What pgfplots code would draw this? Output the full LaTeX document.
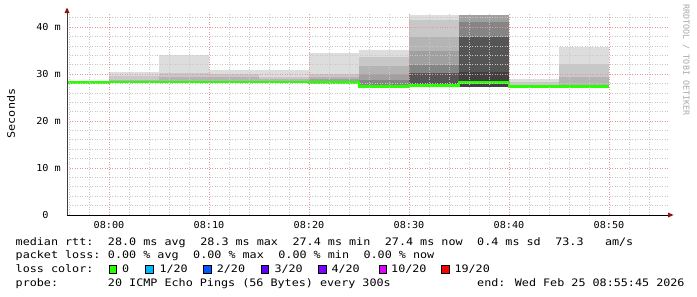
\documentclass[border=0pt]{standalone}
\usepackage{pgfplots}
\pgfplotsset{compat=1.18}
\usepackage{pgfplotstable}
\usepackage{fontspec}
\newfontfamily\rrdmono{DejaVu Sans Mono}[FakeStretch=1.14]
\newfontfamily\rrdtick{DejaVu Sans Mono}[FakeStretch=1.06]
\newfontfamily\rrdwm{DejaVu Sans Mono}
\newcommand\legfont{\rrdmono\fontsize{10.3bp}{12bp}\selectfont}
\newcommand\tickfont{\rrdtick\fontsize{9.6bp}{11bp}\selectfont}
\newcommand\wmfont{\rrdwm\fontsize{8.4bp}{10bp}\selectfont}
\definecolor{c1}{HTML}{DDDDDD}
\definecolor{c2}{HTML}{C8C8C8}
\definecolor{c3}{HTML}{B4B4B4}
\definecolor{c4}{HTML}{A0A0A0}
\definecolor{c5}{HTML}{858585}
\definecolor{c6}{HTML}{555555}
\definecolor{c7}{HTML}{404040}
\definecolor{lossgreen}{HTML}{26FF00}
\definecolor{loss1}{HTML}{00B8FF}
\definecolor{loss2}{HTML}{0059FF}
\definecolor{loss3}{HTML}{5E00FF}
\definecolor{loss4}{HTML}{7E00FF}
\definecolor{loss10}{HTML}{DD00FF}
\definecolor{loss19}{HTML}{FF0000}
\definecolor{mgrid}{HTML}{E69696}
\definecolor{ngrid}{HTML}{C8C8C8}
\definecolor{arrowred}{HTML}{961010}
\definecolor{wmgray}{HTML}{A8A8A8}

% median rtt, minutes after 08:00; each row holds until the next
\pgfplotstableread{
x   med
-5  28.2
0   28.3
5   28.3
10  28.3
15  28.3
20  28.2
25  27.4
30  27.6
35  28.2
40  27.4
45  27.4
50  27.4
}\median

% smoke band: colour, from, to, low, high
\newcommand\sm[5]{\addplot[fill=#1,draw=none,forget plot] coordinates {(#2,#4) (#3,#4) (#3,#5) (#2,#5)};}

\newcommand\legt[3]{\node[anchor=base west,inner sep=0pt,font=\legfont] at ({(15.5+7.1*#1)*1bp},{-#2bp}) {#3};}
\newcommand\lbox[3]{\filldraw[fill=#1,draw=black,line width=0.6bp] ({#2bp},{-#3bp}) rectangle ({(#2+7.7)*1bp},{-(#3-7.6)*1bp});}
\newcommand\legat[3]{\node[anchor=base west,inner sep=0pt,font=\legfont] at ({#1bp},{-#2bp}) {#3};}

\begin{document}
\begin{tikzpicture}
\useasboundingbox (0,0) rectangle (697bp,-297bp);
\begin{axis}[
  at={(67bp,-215bp)}, anchor=south west,
  scale only axis, width=602bp, height=202bp,
  xmin=-4.2, xmax=56, ymin=0, ymax=43,
  axis x line=bottom, axis y line=left,
  every outer x axis line/.append style={-},
  every outer y axis line/.append style={-},
  x axis line style={-, black, line width=0.8bp},
  y axis line style={-, black!75, line width=0.8bp},
  xtick={0,10,20,30,40,50},
  xticklabels={08:00,08:10,08:20,08:30,08:40,08:50},
  ytick={0,10,20,30,40},
  yticklabels={0\hphantom{0m},10 m,20 m,30 m,40 m},
  minor xtick={-4,-2,...,54},
  minor ytick={2,4,...,42},
  grid=both,
  major grid style={draw=mgrid, dash pattern=on 1bp off 1.5bp, line width=0.7bp},
  minor grid style={draw=ngrid, dash pattern=on 1bp off 1.5bp, line width=0.7bp},
  major tick length=0pt, minor tick length=0pt,
  xticklabel style={font=\tickfont, anchor=north, inner sep=0pt, yshift=-6.5bp},
  yticklabel style={font=\tickfont, anchor=east, inner sep=0pt, xshift=-6bp},
  axis on top,
]
% 07:55
\sm{c1}{-5}{0}{28.0}{28.6}
\sm{c2}{-5}{0}{28.0}{28.4}
% 08:00
\sm{c1}{0}{5}{28.0}{30.4}
\sm{c2}{0}{5}{28.1}{29.6}
\sm{c3}{0}{5}{28.2}{28.8}
% 08:05
\sm{c1}{5}{10}{28.0}{34.0}
\sm{c2}{5}{10}{28.1}{30.3}
\sm{c3}{5}{10}{28.2}{29.4}
% 08:10
\sm{c1}{10}{15}{28.0}{30.9}
\sm{c2}{10}{15}{28.1}{30.0}
\sm{c3}{10}{15}{28.2}{29.3}
% 08:15
\sm{c1}{15}{20}{28.0}{30.9}
\sm{c2}{15}{20}{28.1}{29.3}
\sm{c3}{15}{20}{28.2}{28.9}
% 08:20
\sm{c1}{20}{25}{28.0}{34.5}
\sm{c2}{20}{25}{28.0}{30.1}
\sm{c3}{20}{25}{28.1}{29.4}
\sm{c4}{20}{25}{28.1}{28.9}
% 08:25
\sm{c1}{25}{30}{27.2}{35.1}
\sm{c2}{25}{30}{27.2}{33.7}
\sm{c3}{25}{30}{27.2}{31.8}
\sm{c4}{25}{30}{27.3}{30.1}
\sm{c5}{25}{30}{27.3}{28.7}
% 08:30
\sm{c1}{30}{35}{27.3}{42.6}
\sm{c2}{30}{35}{27.3}{41.5}
\sm{c3}{30}{35}{27.3}{37.9}
\sm{c4}{30}{35}{27.3}{34.9}
\sm{c5}{30}{35}{27.3}{31.9}
\sm{c6}{30}{35}{27.3}{30.3}
% 08:35
\sm{c4}{35}{40}{27.3}{42.6}
\sm{c5}{35}{40}{27.3}{41.1}
\sm{c6}{35}{40}{27.3}{37.8}
\sm{c7}{35}{40}{27.3}{30.5}
% 08:40
\sm{c1}{40}{45}{27.2}{28.9}
\sm{c2}{40}{45}{27.2}{28.4}
% 08:45
\sm{c1}{45}{50}{27.2}{35.7}
\sm{c2}{45}{50}{27.2}{32.1}
\sm{c3}{45}{50}{27.2}{29.3}
% median
\addplot[const plot, draw={rgb,255:red,32;green,32;blue,32}, line width=0.8bp, forget plot] table[x=x,y=med]{\median};
\addplot[const plot, draw=lossgreen, line width=2.6bp, forget plot] table[x=x,y=med]{\median};
\end{axis}
% axis arrows
\fill[arrowred] (668bp,-212.5bp) -- (673.5bp,-215bp) -- (668bp,-217.5bp) -- cycle;
\fill[arrowred] (64.5bp,-13bp) -- (67bp,-7.5bp) -- (69.5bp,-13bp) -- cycle;
% axis title and watermark
\node[rotate=90, font=\legfont, inner sep=0pt] at (11bp,-113.5bp) {Seconds};
\node[rotate=-90, font=\wmfont, text=wmgray, inner sep=0pt] at (686bp,-60bp) {RRDTOOL / TOBI OETIKER};
% legend line 1
\legt{0}{245}{median rtt:}
\legt{13}{245}{28.0 ms avg}
\legt{26}{245}{28.3 ms max}
\legt{39}{245}{27.4 ms min}
\legt{52}{245}{27.4 ms now}
\legt{65}{245}{0.4 ms sd}
\legt{76}{245}{73.3}
\legt{83}{245}{am/s}
% legend line 2
\legt{0}{258.9}{packet loss:}
\legt{13}{258.9}{0.00 \% avg}
\legt{25}{258.9}{0.00 \% max}
\legt{37}{258.9}{0.00 \% min}
\legt{49}{258.9}{0.00 \% now}
% legend line 3
\legt{0}{272.8}{loss color:}
\lbox{lossgreen}{109}{272.8}\legat{122.0}{272.8}{0}
\lbox{loss1}{145.7}{272.8}\legat{159.3}{272.8}{1/20}
\lbox{loss2}{203.3}{272.8}\legat{216.6}{272.8}{2/20}
\lbox{loss3}{261}{272.8}\legat{274.3}{272.8}{3/20}
\lbox{loss4}{318.3}{272.8}\legat{331.3}{272.8}{4/20}
\lbox{loss10}{379}{272.8}\legat{391.0}{272.8}{10/20}
\lbox{loss19}{441.7}{272.8}\legat{454.3}{272.8}{19/20}
% legend line 4
\legt{0}{286.6}{probe:}
\legt{13}{286.6}{20 ICMP Echo Pings (56 Bytes) every 300s}
\legt{65}{286.6}{end: Wed Feb 25 08:55:45 2026}
\end{tikzpicture}
\end{document}
